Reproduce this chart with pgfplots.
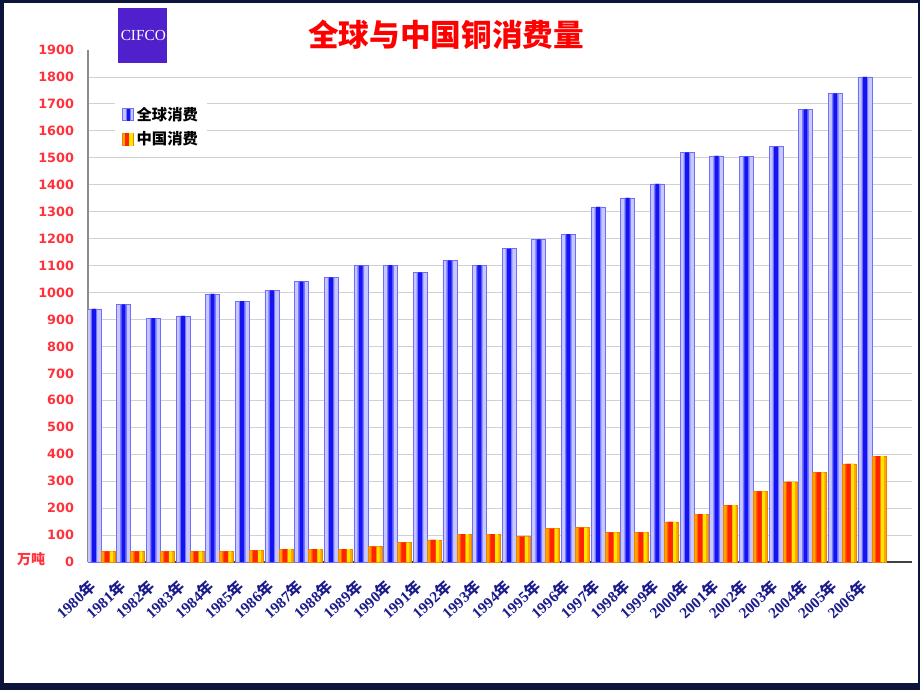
\documentclass[border=0pt]{standalone}
\usepackage{fontspec}
\setmainfont{Liberation Serif}
\newfontfamily\cjk{Noto Sans CJK SC}
\newfontfamily\dejavu{DejaVu Sans}
\newfontfamily\libserif{Liberation Serif}
\usepackage{pgfplots}
\usepackage{pgfplotstable}
\pgfplotsset{compat=1.18}

\definecolor{barlight}{RGB}{200,200,255}
\definecolor{barmid}{RGB}{120,120,255}
\definecolor{bardark}{RGB}{20,20,240}
\definecolor{baredge}{RGB}{110,110,255}
\definecolor{orange1}{RGB}{255,165,0}
\definecolor{ormid}{RGB}{255,100,0}
\definecolor{orred}{RGB}{255,35,0}
\definecolor{oryel}{RGB}{255,230,0}
\definecolor{oredge}{RGB}{240,130,0}
\definecolor{ylab}{RGB}{255,50,60}
\definecolor{xlab}{RGB}{28,28,140}
\definecolor{logo}{RGB}{80,32,205}
\definecolor{framecol}{RGB}{12,20,60}

\pgfplotstableread{
x world china
0 939 39
1 956 39
2 905 39
3 913 39
4 995 39
5 968 43
6 1008 48
7 1040 48
8 1056 48
9 1100 57
10 1102 73
11 1075 82
12 1119 103
13 1102 103
14 1163 94
15 1197 124
16 1217 128
17 1318 110
18 1351 110
19 1403 149
20 1520 178
21 1507 211
22 1504 262
23 1541 297
24 1680 333
25 1739 364
26 1800 393
}\datatable

\newcommand{\nian}{{\cjk\bfseries 年}}

\begin{document}
\begin{tikzpicture}[x=1pt,y=1pt]
\fill[framecol] (0,0) rectangle (690,517.5);
\fill[white] (3,5.25) rectangle (688.5,515.25);
\begin{axis}[
  at={(66pt,96pt)}, anchor=south west,
  scale only axis, width=618pt, height=384pt,
  xmin=-0.44, xmax=27.35, ymin=0, ymax=1900,
  axis x line*=bottom, axis y line*=left,
  x axis line style={draw=black!75, line width=0.8pt},
  y axis line style={draw=black!45, line width=0.8pt},
  ytick={0,100,...,1800},
  extra y ticks={1900}, extra y tick style={grid=none},
  ymajorgrids, grid style={draw=black!18, line width=0.6pt},
  major tick length=0pt,
  /pgf/number format/assume math mode=true,
  /pgf/number format/set thousands separator={},
  yticklabel style={font=\dejavu\bfseries\fontsize{9.6}{10}\selectfont, text=ylab, xshift=-7pt},
  xtick={0,...,26},
  xticklabels={1980\nian,1981\nian,1982\nian,1983\nian,1984\nian,1985\nian,1986\nian,1987\nian,1988\nian,1989\nian,1990\nian,1991\nian,1992\nian,1993\nian,1994\nian,1995\nian,1996\nian,1997\nian,1998\nian,1999\nian,2000\nian,2001\nian,2002\nian,2003\nian,2004\nian,2005\nian,2006\nian},
  xticklabel style={font=\libserif\bfseries\fontsize{11.5}{12}\selectfont, text=xlab, rotate=42, anchor=east, inner sep=0pt, xshift=-15.5pt, yshift=-8.25pt},
  legend style={at={(rel axis cs:0.033,0.902)}, anchor=north west, draw=none, fill=white,
    font=\cjk\bfseries\fontsize{11.5}{13}\selectfont, row sep=3pt, inner xsep=5pt, inner ysep=3pt},
  legend cell align=left,
]
\addplot[ybar, bar width=10.5pt, bar shift=-5.25pt, draw=baredge, line width=0.5pt, fill=barlight,
  legend image code/.code={\draw[draw=baredge, fill=barlight, line width=0.4pt] (0pt,-4.5pt) rectangle (8.5pt,4.5pt);
    \fill[barmid] (2.6pt,-4.3pt) rectangle (5.9pt,4.3pt); \fill[bardark] (3.4pt,-4.3pt) rectangle (5.1pt,4.3pt);}]
  table[x=x, y=world] {\datatable};
\addlegendentry{全球消费}
\addplot[ybar, bar width=5pt, bar shift=-5.35pt, draw=none, fill=barmid, forget plot]
  table[x=x, y=world] {\datatable};
\addplot[ybar, bar width=2.9pt, bar shift=-5.35pt, draw=none, fill=bardark, forget plot]
  table[x=x, y=world] {\datatable};
\addplot[ybar, bar width=10.5pt, bar shift=5.25pt, draw=oredge, line width=0.5pt, fill=orange1,
  legend image code/.code={\draw[draw=oredge, fill=orange1, line width=0.4pt] (0pt,-4.5pt) rectangle (8.5pt,4.5pt);
    \fill[orred] (2.2pt,-4.3pt) rectangle (5.2pt,4.3pt); \fill[oryel] (5.4pt,-4.3pt) rectangle (7.2pt,4.3pt);}]
  table[x=x, y=china] {\datatable};
\addlegendentry{中国消费}
\addplot[ybar, bar width=5pt, bar shift=4.6pt, draw=none, fill=ormid, forget plot]
  table[x=x, y=china] {\datatable};
\addplot[ybar, bar width=3.3pt, bar shift=4.6pt, draw=none, fill=orred, forget plot]
  table[x=x, y=china] {\datatable};
\addplot[ybar, bar width=2.3pt, bar shift=7.7pt, draw=none, fill=oryel, forget plot]
  table[x=x, y=china] {\datatable};
\end{axis}
\node[text=ylab, font=\cjk\bfseries\fontsize{10.5}{12}\selectfont] at (23.25,98.25) {万吨};
\node[text=red, font=\cjk\bfseries\fontsize{23}{25}\selectfont] at (334.5,491.25) {全球与中国铜消费量};
\fill[logo] (88.5,470.25) rectangle (125.25,511.5);
\node[text=white, font=\libserif\fontsize{11.5}{12}\selectfont, inner sep=0pt] at (107.5,490.5) {CIFCO};
\end{tikzpicture}
\end{document}
